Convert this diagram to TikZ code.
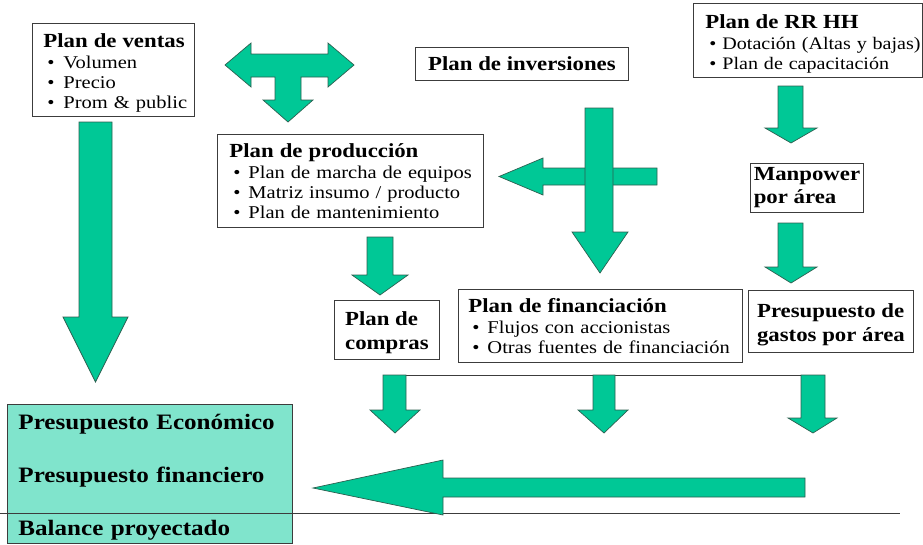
\documentclass[tikz,border=0pt]{standalone}
\usepackage{fontspec}
\setmainfont[FakeStretch=1.14]{Liberation Serif}
\usepackage{tikz}
\definecolor{flechaverde}{RGB}{0,200,150}
\definecolor{flechaborde}{RGB}{45,95,80}
\definecolor{presuverde}{RGB}{128,228,204}
\definecolor{bordegris}{RGB}{60,60,60}
\tikzstyle{plan} = [rectangle, draw=bordegris, fill=white, line width=0.9pt, anchor=north west, align=left, inner ysep=0pt, font=\fontsize{18}{20}\selectfont]
\tikzstyle{flecha} = [fill=flechaverde, draw=flechaborde, line width=0.7pt, line join=miter]
\tikzstyle{linea} = [draw=bordegris, line width=0.8pt]

\begin{document}
\begin{tikzpicture}[x=1pt, y=-1pt]
\useasboundingbox (0,0) rectangle (923,544);

% Cajas
\node (ventas) [plan, text width=140pt, inner xsep=11pt, minimum height=93pt] at (32,23)
  {\mbox{\rule{0pt}{20pt}\textbf{\fontsize{20}{20}\selectfont Plan de ventas}}\\[1pt]
   \mbox{\hspace*{4pt}\makebox[16pt][l]{\textbullet}Volumen}\\
   \mbox{\hspace*{4pt}\makebox[16pt][l]{\textbullet}Precio}\\
   \mbox{\hspace*{4pt}\makebox[16pt][l]{\textbullet}Prom \& public}};
\node (inversiones) [plan, minimum width=213pt, minimum height=33pt] at (415,47)
  {\textbf{\fontsize{20}{20}\selectfont Plan de inversiones}};
\node (produccion) [plan, text width=242pt, inner xsep=12pt, minimum height=93pt] at (217,134)
  {\mbox{\textbf{\fontsize{20}{20}\selectfont Plan de producción}}\\[1pt]
   \mbox{\hspace*{4pt}\makebox[15pt][l]{\textbullet}Plan de marcha de equipos}\\
   \mbox{\hspace*{4pt}\makebox[15pt][l]{\textbullet}Matriz insumo / producto}\\
   \mbox{\hspace*{4pt}\makebox[15pt][l]{\textbullet}Plan de mantenimiento}};
\node (rrhh) [plan, text width=205pt, inner xsep=12pt, minimum height=74pt, font=\fontsize{17.6}{19.5}\selectfont] at (693,3)
  {\mbox{\rule{0pt}{20pt}\textbf{\fontsize{20}{20}\selectfont Plan de RR HH}}\\[2pt]
   \mbox{\hspace*{4pt}\makebox[13pt][l]{\textbullet}Dotación (Altas y bajas)}\\
   \mbox{\hspace*{4pt}\makebox[13pt][l]{\textbullet}Plan de capacitación}};
\node (manpower) [plan, minimum width=113pt, minimum height=49pt, font=\fontsize{20}{23}\selectfont\bfseries] at (750,163)
  {Manpower\\por área};
\node (compras) [plan, minimum width=105pt, minimum height=59pt, font=\fontsize{20}{24}\selectfont\bfseries] at (334,300)
  {\rule{0pt}{20pt}Plan de\\compras};
\node (financiacion) [plan, text width=264pt, inner xsep=10pt, minimum height=73pt] at (458,289)
  {\mbox{\textbf{\fontsize{20}{20}\selectfont Plan de financiación}}\\[1pt]
   \mbox{\hspace*{4pt}\makebox[15pt][l]{\textbullet}Flujos con accionistas}\\
   \mbox{\hspace*{4pt}\makebox[15pt][l]{\textbullet}Otras fuentes de financiación}};
\node (gastos) [plan, minimum width=165pt, minimum height=62pt, font=\fontsize{20}{24}\selectfont\bfseries] at (748,290)
  {\rule{0pt}{21pt}Presupuesto de\\gastos por área};
\node (presupuestos) [plan, fill=presuverde, text width=263pt, inner xsep=11pt, minimum height=139pt, font=\fontsize{22}{53}\selectfont\bfseries] at (7,404)
  {\mbox{\rule{0pt}{22pt}Presupuesto Económico}\\\mbox{Presupuesto financiero}\\\mbox{Balance proyectado}};

% Lineas
\draw[linea] (0,513) -- (900,513);
\draw[linea] (383,375) -- (825,375);

% Flechas
\draw[flecha] (79,122) -- (112,122) -- (112,317) -- (128,317) -- (95.5,382) -- (63,317) -- (79,317) -- cycle;
\draw[flecha] (225,65) -- (251,43) -- (251,54) -- (328,54) -- (328,43) -- (354,65) -- (328,87) -- (328,77)
  -- (301,77) -- (301,100) -- (313,100) -- (288,122) -- (263,100) -- (275,100) -- (275,77) -- (251,77) -- (251,87) -- cycle;
\draw[flecha] (499,176.5) -- (543,158) -- (543,168) -- (657,168) -- (657,185) -- (543,185) -- (543,195) -- cycle;
\draw[flecha] (585,108) -- (613,108) -- (613,232) -- (628,232) -- (600,273) -- (572,232) -- (585,232) -- cycle;
\draw[flecha] (367,237) -- (393,237) -- (393,275) -- (408,275) -- (380,295) -- (352,275) -- (367,275) -- cycle;
\draw[flecha] (778,86) -- (803,86) -- (803,128) -- (817,128) -- (791,143) -- (765,128) -- (778,128) -- cycle;
\draw[flecha] (778,223) -- (803,223) -- (803,267) -- (817,267) -- (791,283) -- (765,267) -- (778,267) -- cycle;
\draw[flecha] (383,375) -- (406,375) -- (406,410) -- (420,410) -- (395,433) -- (370,410) -- (383,410) -- cycle;
\draw[flecha] (593,375) -- (615,375) -- (615,410) -- (628,410) -- (604,433) -- (578,410) -- (593,410) -- cycle;
\draw[flecha] (801,375) -- (825,375) -- (825,418) -- (837,418) -- (813,433) -- (788,418) -- (801,418) -- cycle;
\draw[flecha] (805,478) -- (805,497) -- (443,497) -- (443,515) -- (313,488) -- (443,460) -- (443,478) -- cycle;
\end{tikzpicture}
\end{document}
